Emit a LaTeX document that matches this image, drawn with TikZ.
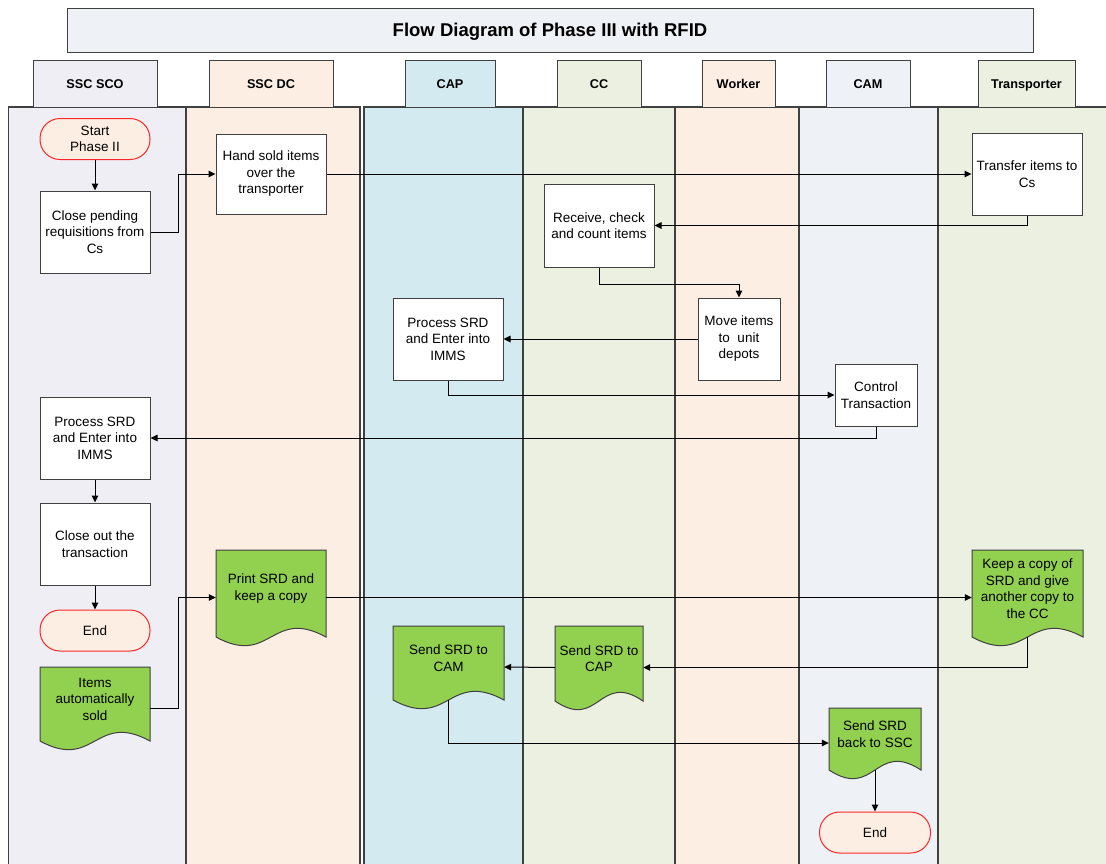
\documentclass[tikz,border=0pt]{standalone}
\usepackage{fontspec}
\setmainfont{Liberation Sans}
\usetikzlibrary{arrows.meta,calc}
\definecolor{lnsco}{RGB}{240,238,245}
\definecolor{lndc}{RGB}{253,238,227}
\definecolor{lncap}{RGB}{210,234,240}
\definecolor{lncc}{RGB}{235,240,224}
\definecolor{lncam}{RGB}{238,241,246}
\definecolor{docgrn}{RGB}{146,208,80}
\definecolor{edgegray}{RGB}{64,64,64}
\definecolor{termred}{RGB}{250,40,40}
\newcommand{\boxfont}{\fontsize{13.5}{16.5}\selectfont}
\newcommand{\docbox}[6]{%
  \filldraw[docln] (#2-#4/2,#3-#5/2) -- (#2+#4/2,#3-#5/2) -- (#2+#4/2,#3+#5/2+10)
    .. controls (#2,#3+#5/2-20) and (#2,#3+#5/2+40) .. (#2-#4/2,#3+#5/2+10) -- cycle;
  \node[docu, minimum width=#4, minimum height=#5] (#1) at (#2,#3) {#6};
  \coordinate (#1-w) at (#2,#3+#5/2+10);}
\tikzset{
  lane/.style={draw=edgegray, line width=1.4pt},
  hdr/.style={draw=edgegray, line width=1pt, font=\fontsize{12.7}{15}\selectfont\bfseries, minimum height=47, inner sep=0pt, text height=9.2pt, text depth=0pt},
  ttl/.style={draw=edgegray, fill=lncam, line width=1pt, font=\fontsize{18.5}{22}\selectfont\bfseries, minimum width=966, minimum height=44, inner sep=0pt, text height=13.5pt, text depth=0pt},
  proc/.style={draw=edgegray, fill=white, line width=1pt, font=\boxfont, align=center, inner sep=2pt},
  term/.style={draw=termred, fill=lndc, line width=1pt, rounded corners=20pt, font=\boxfont, align=center, minimum width=110, minimum height=41, inner sep=2pt},
  docu/.style={font=\boxfont, align=center, inner sep=2pt},
  docln/.style={draw=edgegray, fill=docgrn, line width=1pt},
  flw/.style={-{Triangle[length=7pt,width=6.5pt]}, line width=1pt, black},
}
\begin{document}
\begin{tikzpicture}[x=1pt,y=-1pt]
  \useasboundingbox (0,0) rectangle (1106,863);
  \clip (0,0) rectangle (1106,863);
  % swimlanes
  \draw[lane, fill=lnsco] (8.5,107) rectangle (186,880);
  \draw[lane, fill=lndc] (186,107) rectangle (360,880);
  \draw[lane, fill=lncap] (364,107) rectangle (523,880);
  \draw[lane, fill=lncc] (523,107) rectangle (675,880);
  \draw[lane, fill=lndc] (675,107) rectangle (799,880);
  \draw[lane, fill=lncam] (799,107) rectangle (938,880);
  \draw[lane, fill=lncc] (938,107) rectangle (1120,880);
  % title and lane headers
  \node[ttl] (title) at (550,30) {Flow Diagram of Phase III with RFID};
  \node[hdr, fill=lnsco, minimum width=124] (hsco) at (95,83.5) {SSC SCO};
  \node[hdr, fill=lndc, minimum width=124] (hdc) at (271,83.5) {SSC DC};
  \node[hdr, fill=lncap, minimum width=90] (hcap) at (450,83.5) {CAP};
  \node[hdr, fill=lncc, minimum width=84] (hcc) at (599,83.5) {CC};
  \node[hdr, fill=lndc, minimum width=73] (hwrk) at (738.5,83.5) {Worker};
  \node[hdr, fill=lncam, minimum width=84] (hcam) at (868,83.5) {CAM};
  \node[hdr, fill=lncc, minimum width=97] (htrn) at (1026.5,83.5) {Transporter};
  % steps
  \node[term] (start) at (95,139) {Start\\Phase II};
  \node[proc, minimum width=110, minimum height=82] (cpr) at (95,232) {Close pending\\requisitions from\\Cs};
  \node[proc, minimum width=110, minimum height=80] (hand) at (271,174) {Hand sold items\\over the\\transporter};
  \node[proc, minimum width=110, minimum height=82] (transfer) at (1027,174) {Transfer items to\\Cs};
  \node[proc, minimum width=110, minimum height=83] (receive) at (599,225.5) {Receive, check\\and count items};
  \node[proc, minimum width=82, minimum height=82] (move) at (739,339) {Move items\\to\ \ unit\\depots};
  \node[proc, minimum width=110, minimum height=82] (procap) at (448,339) {Process SRD\\and Enter into\\IMMS};
  \node[proc, minimum width=82, minimum height=62] (control) at (876,395) {Control\\Transaction};
  \node[proc, minimum width=110, minimum height=82] (prosco) at (95,438) {Process SRD\\and Enter into\\IMMS};
  \node[proc, minimum width=110, minimum height=82] (closeout) at (95,544) {Close out the\\transaction};
  \node[term] (endsco) at (95,630.5) {End};
  \docbox{auto}{95}{699}{110}{64}{Items\\automatically\\sold}
  \docbox{print}{271}{588.5}{110}{77}{Print SRD and\\keep a copy}
  \docbox{keep}{1027.5}{588.5}{111}{77}{Keep a copy of\\SRD and give\\another copy to\\the CC}
  \docbox{sendcam}{448.5}{658}{111}{64}{Send SRD to\\CAM}
  \docbox{sendcap}{599}{658.5}{88}{65}{Send SRD to\\CAP}
  \docbox{sendback}{875}{734}{92}{52}{Send SRD\\back to SSC}
  \node[term, minimum width=111] (endcam) at (875,832.5) {End};
  % flow
  \draw[flw] (start) -- (cpr);
  \draw[flw] (cpr.east) -- ++(28,0) |- (hand.west);
  \draw[flw] (hand.east) -- (transfer.west);
  \draw[flw] (transfer.south) |- (receive.east);
  \draw[flw] (receive.south) -- ++(0,17) -| (move.north);
  \draw[flw] (move.west) -- (procap.east);
  \draw[flw] (procap.south) |- (control.west);
  \draw[flw] (control.south) |- (prosco.east);
  \draw[flw] (prosco) -- (closeout);
  \draw[flw] (closeout) -- (endsco);
  \draw[flw] ([yshift=-9pt]auto.east) -- ++(28,0) |- ([yshift=-9pt]print.west);
  \draw[flw] ([yshift=-9pt]print.east) -- ([yshift=-9pt]keep.west);
  \draw[flw] (keep-w) |- ([yshift=-9pt]sendcap.east);
  \draw[flw] ([yshift=-9pt]sendcap.west) -- ([yshift=-9pt]sendcam.east);
  \draw[flw] (sendcam-w) |- ([yshift=-9pt]sendback.west);
  \draw[flw] (sendback-w) -- (endcam.north);
\end{tikzpicture}
\end{document}
